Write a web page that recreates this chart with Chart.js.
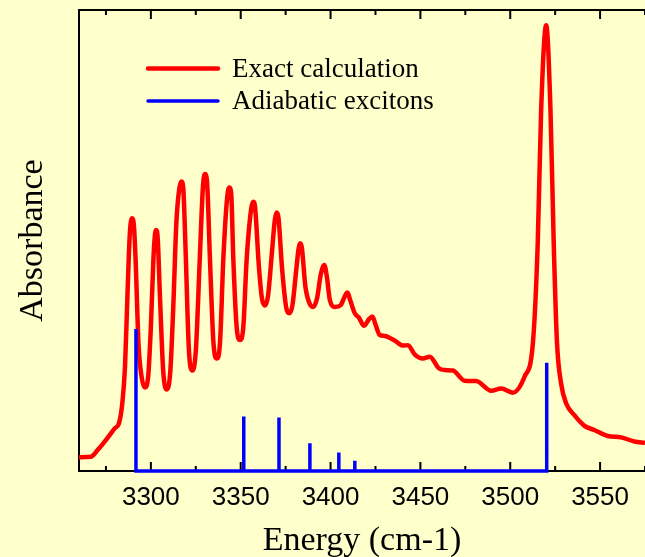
<!DOCTYPE html>
<html>
<head>
<meta charset="utf-8">
<script src="https://cdn.jsdelivr.net/npm/chart.js@4.4.1/dist/chart.umd.min.js"></script>
<style>
  html, body { margin: 0; padding: 0; background: #FFFFCC; overflow: hidden; }
  canvas { display: block; }
</style>
</head>
<body>
<canvas id="c" width="645" height="557"></canvas>
<script>
// ---- data ----
const exactEnergy = [
  3260.0, 3266.7, 3270.7, 3276.3, 3280.0, 3282.2, 3284.1, 3285.6, 3287.0, 3288.3,
  3289.6, 3290.6, 3291.5, 3293.1, 3294.8, 3296.7, 3298.5, 3300.0, 3301.4, 3302.1,
  3302.9, 3303.8, 3305.0, 3306.9, 3308.9, 3310.8, 3312.4, 3314.2, 3315.8, 3317.0,
  3318.0, 3319.2, 3321.2, 3323.1, 3325.0, 3327.2, 3329.0, 3330.2, 3331.2, 3332.9,
  3334.8, 3336.7, 3338.5, 3340.3, 3342.5, 3343.7, 3344.7, 3345.9, 3347.8, 3349.6,
  3351.4, 3353.3, 3355.8, 3357.0, 3358.0, 3360.0, 3361.8, 3363.5, 3365.2, 3367.5,
  3369.0, 3370.0, 3371.0, 3373.0, 3375.3, 3377.0, 3378.8, 3381.0, 3382.2, 3383.1,
  3384.0, 3386.0, 3388.5, 3390.3, 3392.5, 3394.5, 3396.5, 3398.0, 3399.6, 3402.4,
  3405.7, 3407.8, 3409.4, 3411.0, 3413.5, 3415.7, 3418.7, 3421.5, 3423.3, 3425.0,
  3427.4, 3430.2, 3435.7, 3440.3, 3443.1, 3446.8, 3451.4, 3455.2, 3460.2, 3463.5,
  3468.1, 3474.6, 3481.1, 3489.4, 3495.0, 3501.4, 3508.0, 3512.6, 3515.3, 3517.2,
  3520.0, 3522.4, 3524.2, 3526.0, 3528.3, 3531.1, 3535.7, 3541.3, 3546.8, 3554.2,
  3561.7, 3569.1, 3575.0
];
const exactAbs = [
  0.030, 0.031, 0.047, 0.074, 0.093, 0.103, 0.147, 0.226, 0.385, 0.516,
  0.548, 0.530, 0.458, 0.277, 0.205, 0.181, 0.205, 0.313, 0.458, 0.505,
  0.523, 0.505, 0.385, 0.215, 0.177, 0.215, 0.349, 0.540, 0.612, 0.628,
  0.615, 0.494, 0.260, 0.218, 0.260, 0.458, 0.618, 0.644, 0.630, 0.458,
  0.280, 0.244, 0.280, 0.458, 0.595, 0.615, 0.602, 0.458, 0.310, 0.284,
  0.310, 0.458, 0.568, 0.584, 0.572, 0.450, 0.375, 0.359, 0.380, 0.480,
  0.545, 0.561, 0.550, 0.440, 0.355, 0.342, 0.360, 0.440, 0.482, 0.494,
  0.485, 0.400, 0.362, 0.356, 0.375, 0.425, 0.447, 0.420, 0.371, 0.356,
  0.360, 0.378, 0.387, 0.370, 0.342, 0.333, 0.315, 0.330, 0.335, 0.318,
  0.295, 0.293, 0.283, 0.272, 0.273, 0.253, 0.244, 0.248, 0.223, 0.219,
  0.218, 0.196, 0.195, 0.174, 0.179, 0.170, 0.205, 0.277, 0.494, 0.783,
  0.967, 0.783, 0.494, 0.280, 0.190, 0.147, 0.121, 0.098, 0.089, 0.076,
  0.073, 0.064, 0.061
];
const stickEnergy = [3291.7, 3351.7, 3371.3, 3382.0, 3388.5, 3404.6, 3413.5, 3520.3];
const stickAbs    = [0.308, 0.118, 0.116, 0.004, 0.060, 0.040, 0.022, 0.235];
const majorTicks = [3300, 3350, 3400, 3450, 3500, 3550];
const minorTicks = [3275, 3325, 3375, 3425, 3475, 3525, 3575];
const seriesNames = ['Exact calculation', 'Adiabatic excitons'];
const xTitle = 'Energy (cm-1)';
const yTitle = 'Absorbance';

// ---- build library data ----
const exactData = exactEnergy.map((e, i) => ({ x: e, y: exactAbs[i] }));
const stickData = [];
stickEnergy.forEach((e, i) => {
  stickData.push({ x: e, y: 0 });
  stickData.push({ x: e, y: stickAbs[i] });
  stickData.push({ x: e, y: 0 });
});

const BG = '#FFFFCC';

const framePlugin = {
  id: 'frame',
  beforeDraw(chart) {
    const ctx = chart.ctx;
    ctx.save();
    ctx.fillStyle = BG;
    ctx.fillRect(0, 0, chart.width, chart.height);
    ctx.restore();
  },
  beforeDatasetsDraw(chart) {
    const { ctx, chartArea: a, scales: { x } } = chart;
    ctx.save();
    ctx.strokeStyle = '#000';
    ctx.lineWidth = 2;
    ctx.beginPath();
    ctx.moveTo(a.left, a.top); ctx.lineTo(chart.width + 5, a.top);
    ctx.moveTo(a.left, a.top - 1); ctx.lineTo(a.left, a.bottom + 1);
    ctx.moveTo(a.left, a.bottom); ctx.lineTo(chart.width + 5, a.bottom);
    ctx.stroke();
    const drawTick = (v, len) => {
      const px = x.getPixelForValue(v);
      if (px < a.left || px > chart.width) return;
      ctx.moveTo(px, a.bottom); ctx.lineTo(px, a.bottom - len);
      ctx.moveTo(px, a.top); ctx.lineTo(px, a.top + len);
    };
    ctx.beginPath();
    majorTicks.forEach(v => drawTick(v, 9));
    minorTicks.forEach(v => drawTick(v, 5));
    ctx.stroke();
    ctx.restore();
  },
  afterDraw(chart) {
    const ctx = chart.ctx;
    ctx.save();
    const rows = [68.5, 101];
    chart.data.datasets.forEach((ds, i) => {
      const y = rows[i];
      ctx.strokeStyle = ds.borderColor;
      ctx.lineWidth = ds.borderWidth;
      ctx.lineCap = 'round';
      ctx.beginPath();
      ctx.moveTo(148, y); ctx.lineTo(218, y);
      ctx.stroke();
      ctx.fillStyle = '#000';
      ctx.font = '27px "Liberation Serif", "Times New Roman", serif';
      ctx.textBaseline = 'alphabetic';
      ctx.textAlign = 'left';
      ctx.fillText(ds.label, 232, y + 8);
    });
    ctx.restore();
  }
};

new Chart(document.getElementById('c'), {
  type: 'line',
  data: {
    datasets: [
      {
        label: seriesNames[0],
        data: exactData,
        borderColor: '#FF0000',
        borderWidth: 4.5,
        pointRadius: 0,
        cubicInterpolationMode: 'monotone',
        fill: false,
        order: 2
      },
      {
        label: seriesNames[1],
        data: stickData,
        borderColor: '#0000FF',
        borderWidth: 3.5,
        pointRadius: 0,
        tension: 0,
        fill: false,
        clip: false,
        order: 1
      }
    ]
  },
  options: {
    responsive: false,
    animation: false,
    devicePixelRatio: 1,
    layout: { padding: { top: 10, right: 0, left: 0, bottom: 0 } },
    plugins: {
      legend: { display: false },
      tooltip: { enabled: false }
    },
    scales: {
      x: {
        type: 'linear',
        min: 3260,
        max: 3575,
        grid: { display: false },
        border: { display: false },
        afterBuildTicks(scale) { scale.ticks = majorTicks.map(v => ({ value: v })); },
        afterFit(scale) { scale.height = 86; scale.paddingLeft = 0; scale.paddingRight = 0; },
        ticks: {
          autoSkip: false,
          maxRotation: 0,
          padding: 3,
          color: '#000',
          font: { family: '"Liberation Sans", Arial, sans-serif', size: 26 },
          callback: v => String(v)
        },
        title: {
          display: true,
          text: xTitle,
          color: '#000',
          font: { family: '"Liberation Serif", "Times New Roman", serif', size: 34 },
          padding: { top: 0, bottom: -4 }
        }
      },
      y: {
        type: 'linear',
        min: 0,
        max: 1,
        grid: { display: false },
        border: { display: false },
        ticks: { display: false },
        afterFit(scale) { scale.width = 79; },
        title: {
          display: true,
          text: yTitle,
          color: '#000',
          font: { family: '"Liberation Serif", "Times New Roman", serif', size: 34 },
          padding: { top: 13, bottom: 0 }
        }
      }
    }
  },
  plugins: [framePlugin]
});
</script>
</body>
</html>
